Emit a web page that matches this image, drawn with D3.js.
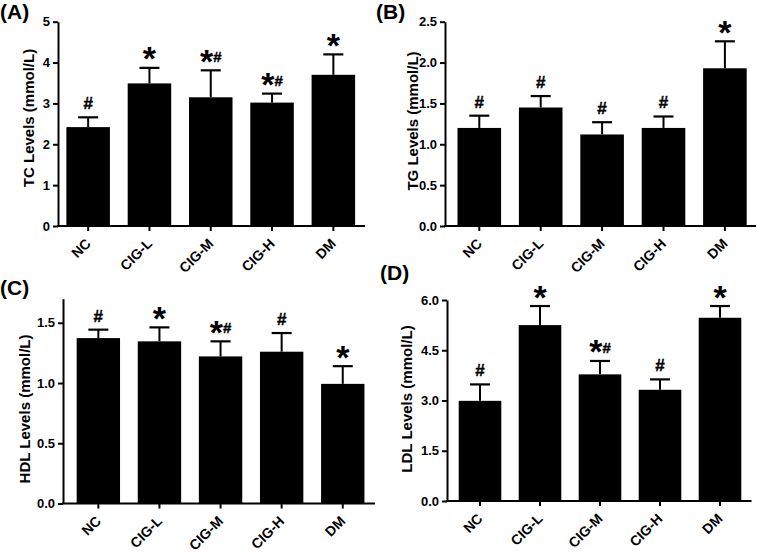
<!DOCTYPE html>
<html>
<head>
<meta charset="utf-8">
<script src="https://cdn.jsdelivr.net/npm/d3@7"></script>
<style>
  html, body { margin: 0; padding: 0; background: #fff; }
  svg { display: block; }
  text { font-family: "Liberation Sans", Arial, Helvetica, sans-serif; font-weight: bold; fill: #000; }
</style>
</head>
<body>
<svg id="chart" width="758" height="552"></svg>
<script>
// ---------- data ----------
const categories = ["NC", "CIG-L", "CIG-M", "CIG-H", "DM"];

const tcMeans = [2.42, 3.49, 3.15, 3.02, 3.70];
const tcSD    = [0.24, 0.38, 0.66, 0.22, 0.50];
const tcMarks = ["#", "*", "*#", "*#", "*"];
const tcTicks = [0, 1, 2, 3, 4, 5];

const tgMeans = [1.20, 1.45, 1.12, 1.20, 1.93];
const tgSD    = [0.15, 0.14, 0.15, 0.14, 0.33];
const tgMarks = ["#", "#", "#", "#", "*"];
const tgTicks = [0.0, 0.5, 1.0, 1.5, 2.0, 2.5];

const hdlMeans = [1.373, 1.346, 1.221, 1.26, 0.993];
const hdlSD    = [0.07, 0.116, 0.125, 0.155, 0.147];
const hdlMarks = ["#", "*", "*#", "#", "*"];
const hdlTicks = [0.0, 0.5, 1.0, 1.5];

const ldlMeans = [2.99, 5.25, 3.78, 3.32, 5.47];
const ldlSD    = [0.49, 0.57, 0.40, 0.31, 0.35];
const ldlMarks = ["#", "*", "*#", "#", "*"];
const ldlTicks = [0.0, 1.5, 3.0, 4.5, 6.0];

const panelTitles = ["(A)", "(B)", "(C)", "(D)"];
const yLabels = ["TC Levels (mmol/L)", "TG Levels (mmol/L)", "HDL Levels (mmol/L)", "LDL Levels (mmol/L)"];

// ---------- panels ----------
const panels = [
  { title: panelTitles[0], ylab: yLabels[0], means: tcMeans, sd: tcSD, marks: tcMarks, ticks: tcTicks, fmt: d3.format("d"), max: 5,
    axisX: 58, xr: [57.5, 364], axisEnd: 365, yTop: 21.7, yBot: 226, titlePos: [0, 19], ylabPos: [33.7, 118] },
  { title: panelTitles[1], ylab: yLabels[1], means: tgMeans, sd: tgSD, marks: tgMarks, ticks: tgTicks, fmt: d3.format(".1f"), max: 2.5,
    axisX: 445, xr: [448.6, 755.6], axisEnd: 756, yTop: 21.7, yBot: 226, titlePos: [376, 19], ylabPos: [418, 121] },
  { title: panelTitles[2], ylab: yLabels[2], means: hdlMeans, sd: hdlSD, marks: hdlMarks, ticks: hdlTicks, fmt: d3.format(".1f"), max: 1.7,
    axisX: 63, xr: [67.8, 373.3], axisEnd: 375, yTop: 298.7, yBot: 503.5, titlePos: [0, 295], ylabPos: [30.4, 409] },
  { title: panelTitles[3], ylab: yLabels[3], means: ldlMeans, sd: ldlSD, marks: ldlMarks, ticks: ldlTicks, fmt: d3.format(".1f"), max: 6,
    axisX: 447, xr: [450, 750], axisEnd: 751.5, yTop: 300, yBot: 501, titlePos: [380, 280], ylabPos: [412.4, 399] }
];

const svg = d3.select("#chart");

panels.forEach(p => {
  const g = svg.append("g");

  const x = d3.scaleBand().domain(categories).range(p.xr).paddingInner(0.29).paddingOuter(0.145);
  const y = d3.scaleLinear().domain([0, p.max]).range([p.yBot, p.yTop]);

  // bars
  g.selectAll("rect.bar").data(categories).join("rect")
    .attr("class", "bar")
    .attr("x", d => x(d))
    .attr("width", x.bandwidth())
    .attr("y", (d, i) => y(p.means[i]))
    .attr("height", (d, i) => y(0) - y(p.means[i]))
    .attr("fill", "#000");

  // error bars (upper only)
  const capW = 20;
  categories.forEach((c, i) => {
    const cx = x(c) + x.bandwidth() / 2;
    const top = y(p.means[i] + p.sd[i]);
    g.append("line").attr("x1", cx).attr("x2", cx)
      .attr("y1", y(p.means[i])).attr("y2", top)
      .attr("stroke", "#000").attr("stroke-width", 2);
    g.append("line").attr("x1", cx - capW / 2).attr("x2", cx + capW / 2)
      .attr("y1", top).attr("y2", top)
      .attr("stroke", "#000").attr("stroke-width", 2.2);

    // significance marks
    const combo = p.marks[i].length > 1;
    const t = g.append("text")
      .attr("x", cx).attr("y", top - 8)
      .attr("text-anchor", "middle");
    let cur = 0;
    for (const ch of p.marks[i]) {
      const target = ch === "*" ? 10.5 : 0;
      t.append("tspan")
        .attr("dy", target - cur)
        .style("font-size", ch === "*" ? "34px" : (combo ? "15px" : "17px"))
        .attr("stroke", ch === "#" ? "#000" : null)
        .attr("stroke-width", ch === "#" ? 0.4 : null)
        .text(ch);
      cur = target;
    }
  });

  // y axis
  const yAxis = g.append("g")
    .attr("transform", `translate(${p.axisX},0)`)
    .call(d3.axisLeft(y).tickValues(p.ticks).tickFormat(p.fmt).tickSize(5).tickSizeOuter(0).tickPadding(3));
  yAxis.attr("font-family", null);
  yAxis.select(".domain").attr("stroke-width", 2);
  yAxis.selectAll(".tick line").attr("stroke-width", 2);
  yAxis.selectAll(".tick text").style("font-size", "13px");

  // x axis
  const xAxis = g.append("g")
    .attr("transform", `translate(0,${p.yBot})`)
    .call(d3.axisBottom(x).tickSize(5).tickSizeOuter(0));
  xAxis.attr("font-family", null);
  xAxis.select(".domain").remove();
  xAxis.append("line")
    .attr("x1", p.axisX - 1).attr("x2", p.axisEnd)
    .attr("y1", 0).attr("y2", 0)
    .attr("stroke", "#000").attr("stroke-width", 2);
  xAxis.selectAll(".tick line").attr("stroke-width", 2);
  xAxis.selectAll(".tick text")
    .attr("x", 0).attr("y", 0).attr("dy", 0)
    .attr("text-anchor", "end")
    .attr("transform", "translate(3.5,18.5) rotate(-45)")
    .style("font-size", "14px");

  // y label
  g.append("text")
    .attr("transform", `translate(${p.ylabPos[0]},${p.ylabPos[1]}) rotate(-90)`)
    .attr("text-anchor", "middle")
    .style("font-size", "15px")
    .text(p.ylab);

  // panel title
  g.append("text")
    .attr("x", p.titlePos[0]).attr("y", p.titlePos[1])
    .style("font-size", "21px")
    .text(p.title);
});
</script>
</body>
</html>
